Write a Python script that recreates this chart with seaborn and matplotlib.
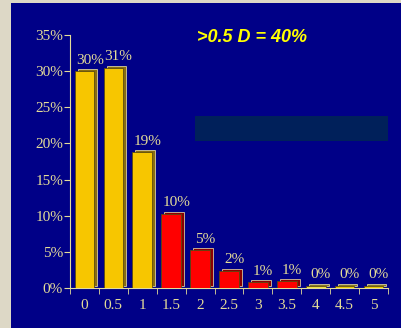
import matplotlib
matplotlib.use("Agg")
import matplotlib.pyplot as plt
import matplotlib.transforms as mtransforms
import seaborn as sns
import pandas as pd

# Данные
categories = ["0", "0.5", "1", "1.5", "2", "2.5", "3", "3.5", "4", "4.5", "5"]
values = [30, 30.5, 18.8, 10.3, 5.2, 2.4, 0.8, 0.9, 0.3, 0.3, 0.3]
labels = ["30%", "31%", "19%", "10%", "5%", "2%", "1%", "1%", "0%", "0%", "0%"]
bar_colors = ["#f7c600", "#f7c600", "#f7c600", "#ff0000", "#ff0000", "#ff0000",
              "#ff0000", "#ff0000", "#f0e040", "#e8c800", "#e8c800"]
side_colors = ["#8a6e10", "#8a6e10", "#8a6e10", "#8a0000", "#8a0000", "#8a0000",
               "#8a0000", "#8a0000", "#8a7a20", "#8a7a20", "#8a7a20"]
y_ticks = [0, 5, 10, 15, 20, 25, 30, 35]

df = pd.DataFrame({"cat": categories, "val": values})

navy = "#000087"
khaki = "#e4dc98"

fig = plt.figure(figsize=(4.02, 3.28), dpi=100)
fig.patch.set_facecolor("#ddd8c6")
fig.add_artist(plt.Rectangle((11 / 402, 0), 1, 1 - 3 / 328, transform=fig.transFigure,
                             facecolor=navy, edgecolor="none", zorder=0))

ax = fig.add_axes([70 / 402, 40 / 328, 318 / 402, 253 / 328])
ax.set_facecolor("none")

# "объём" столбиков: тёмная задняя копия со сдвигом
shift = mtransforms.offset_copy(ax.transData, fig=fig, x=3, y=2, units="dots")
sns.barplot(data=df, x="cat", y="val", hue="cat", palette=side_colors, legend=False,
            width=0.68, saturation=1, ax=ax, zorder=2)
for p in ax.patches:
    p.set_transform(shift)
    p.set_edgecolor("#f6eeb0")
    p.set_linewidth(0.5)
n_back = len(ax.patches)
sns.barplot(data=df, x="cat", y="val", hue="cat", palette=bar_colors, legend=False,
            width=0.68, saturation=1, ax=ax, zorder=3)
for p in ax.patches[n_back:]:
    p.set_edgecolor("#5a4a10")
    p.set_linewidth(0.6)

for i, (v, t) in enumerate(zip(values, labels)):
    ax.text(i + 0.18, v + 0.6, t, ha="center", va="bottom", color=khaki,
            family="Liberation Serif", fontsize=11, zorder=4)

ax.set_xlim(-0.5, 10.5)
ax.set_ylim(0, 35)
ax.set_yticks(y_ticks)
ax.set_yticklabels([f"{t}%" for t in y_ticks])
ax.set_xticks(range(len(categories)))
ax.set_xticklabels(categories)
ax.set_xticks([i + 0.5 for i in range(-1, len(categories))], minor=True)
ax.tick_params(axis="x", which="major", length=0, pad=8)
ax.tick_params(axis="x", which="minor", length=4, color=khaki, direction="out")
ax.tick_params(axis="y", length=4, color=khaki, pad=1)
for lab in ax.get_xticklabels() + ax.get_yticklabels():
    lab.set_family("Liberation Serif")
    lab.set_color(khaki)
    lab.set_fontsize(11)
ax.set_xlabel("")
ax.set_ylabel("")
for s in ["top", "right"]:
    ax.spines[s].set_visible(False)
ax.spines["left"].set_color(khaki)
ax.spines["bottom"].set_color(khaki)

# тёмная плашка
fig.add_artist(plt.Rectangle((195 / 402, 1 - 141 / 328), 193 / 402, 25 / 328,
                             transform=fig.transFigure, facecolor="#00205a",
                             edgecolor="none", zorder=5))
fig.text(252 / 402, 1 - 37 / 328, ">0.5 D = 40%", color="#ffff00", ha="center",
         va="center", fontsize=13, fontweight="bold", style="italic",
         family="Liberation Sans")

plt.savefig("out.png", dpi=100, facecolor=fig.get_facecolor())
